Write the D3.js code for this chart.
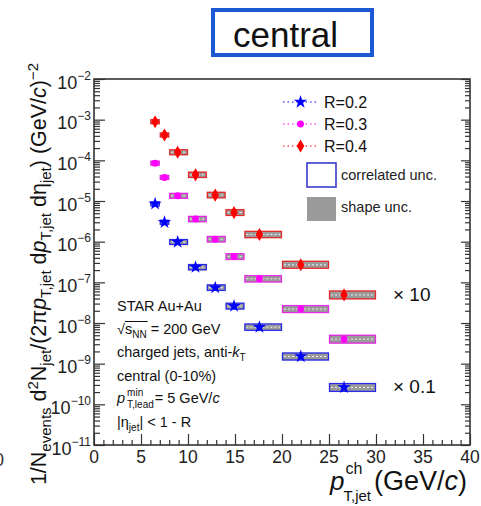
<!DOCTYPE html>
<html>
<head>
<meta charset="utf-8">
<script src="https://cdn.jsdelivr.net/npm/d3@7"></script>
<style>
  body { margin: 0; background: #fff; }
  svg { display: block; font-family: "Liberation Sans", Arial, sans-serif; }
</style>
</head>
<body>
<svg id="chart" width="481" height="506"></svg>
<script>
// pT bins (GeV/c) and the mean pT where the marker sits
const binLo = [6, 7, 8, 10, 12, 14, 16, 20, 25];
const binHi = [7, 8, 10, 12, 14, 16, 20, 25, 30];
const ptMean = [6.5, 7.5, 8.9, 10.8, 12.9, 14.9, 17.6, 22.0, 26.6];

// yields, already scaled (R=0.4 x10, R=0.2 x0.1)
const yieldR04 = [8.9e-4, 4.2e-4, 1.58e-4, 4.4e-5, 1.4e-5, 5.2e-6, 1.5e-6, 2.7e-7, 4.9e-8];
const yieldR03 = [8.5e-5, 3.8e-5, 1.34e-5, 3.6e-6, 1.15e-6, 4.3e-7, 1.22e-7, 2.2e-8, 4.0e-9];
const yieldR02 = [8.5e-6, 3.0e-6, 9.8e-7, 2.36e-7, 7.4e-8, 2.6e-8, 7.9e-9, 1.5e-9, 2.6e-10];

// relative systematic uncertainties
const shapeUnc = [0.15, 0.15, 0.18, 0.2, 0.2, 0.21, 0.22, 0.25, 0.28];
const corrUnc  = [0.12, 0.12, 0.15, 0.16, 0.17, 0.18, 0.2, 0.22, 0.25];

const xTicks = [0, 5, 10, 15, 20, 25, 30, 35, 40];
const yExps = [-11, -10, -9, -8, -7, -6, -5, -4, -3, -2];

const series = [
    { name: "R=0.2", values: yieldR02, color: "#0000ff", symbol: d3.symbolStar, size: 55 },
    { name: "R=0.3", values: yieldR03, color: "#ff00ff", symbol: d3.symbolCircle, size: 38 },
    { name: "R=0.4", values: yieldR04, color: "#ff0000", symbol: d3.symbolDiamond, size: 50 }
];

const x = d3.scaleLinear().domain([0, 40]).range([94, 470]);
const y = d3.scaleLog().domain([1e-11, 1e-2]).range([445, 79]);

const svg = d3.select("#chart");

// "central" tag on top
svg.append("rect")
    .attr("x", 213).attr("y", 10)
    .attr("width", 159).attr("height", 45)
    .attr("fill", "#fff")
    .attr("stroke", "#1c58d4")
    .attr("stroke-width", 4);
svg.append("text")
    .attr("x", 233).attr("y", 47)
    .attr("font-size", 35)
    .attr("fill", "#111")
    .text("central");

// stray label from the neighbouring panel
svg.append("text")
    .attr("x", -6).attr("y", 466)
    .attr("font-size", 18)
    .attr("fill", "#333")
    .text("0");

// ticks
const yMinor = [];
yExps.slice(0, -1).forEach(e => {
    for (let k = 2; k <= 9; k++) yMinor.push(k * Math.pow(10, e));
});
const yMajor = yExps.map(e => Math.pow(10, e));
const xMinor = d3.range(0, 41, 1).filter(v => v % 5 !== 0);

function clean(g) {
    g.select(".domain").remove();
    g.selectAll("text").remove();
    g.selectAll("line").attr("stroke", "#333").attr("stroke-width", 1.2);
}

svg.append("g").attr("transform", "translate(94,0)")
    .call(d3.axisLeft(y).tickValues(yMinor).tickSize(-6)).call(clean);
svg.append("g").attr("transform", "translate(94,0)")
    .call(d3.axisLeft(y).tickValues(yMajor).tickSize(-11)).call(clean);
svg.append("g").attr("transform", "translate(470,0)")
    .call(d3.axisRight(y).tickValues(yMinor).tickSize(-5)).call(clean);
svg.append("g").attr("transform", "translate(470,0)")
    .call(d3.axisRight(y).tickValues(yMajor).tickSize(-9)).call(clean);
svg.append("g").attr("transform", "translate(0,445)")
    .call(d3.axisBottom(x).tickValues(xMinor).tickSize(-5)).call(clean);
svg.append("g").attr("transform", "translate(0,445)")
    .call(d3.axisBottom(x).tickValues(xTicks).tickSize(-11)).call(clean);

// frame
svg.append("rect")
    .attr("x", x(0)).attr("y", y(1e-2))
    .attr("width", x(40) - x(0)).attr("height", y(1e-11) - y(1e-2))
    .attr("fill", "none")
    .attr("stroke", "#333")
    .attr("stroke-width", 1.6);

// y tick labels: 10^n
yExps.forEach(e => {
    const t = svg.append("text")
        .attr("x", 91).attr("y", y(Math.pow(10, e)) + 9.5)
        .attr("text-anchor", "end")
        .attr("font-size", 18)
        .attr("fill", "#222");
    t.append("tspan").text("10");
    t.append("tspan").attr("font-size", 12).attr("dy", -9).text("\u2212" + Math.abs(e));
});

// x tick labels
xTicks.forEach(v => {
    svg.append("text")
        .attr("x", x(v)).attr("y", 463)
        .attr("text-anchor", "middle")
        .attr("font-size", 17.5)
        .attr("fill", "#222")
        .text(v);
});

// systematic boxes
series.forEach(s => {
    const g = svg.append("g");
    s.values.forEach((v, i) => {
        g.append("rect")
            .attr("x", x(binLo[i])).attr("width", x(binHi[i]) - x(binLo[i]))
            .attr("y", y(v * (1 + shapeUnc[i])))
            .attr("height", y(v / (1 + shapeUnc[i])) - y(v * (1 + shapeUnc[i])))
            .attr("fill", "#9a9a9a");
        g.append("rect")
            .attr("x", x(binLo[i]) + 0.5).attr("width", x(binHi[i]) - x(binLo[i]) - 1)
            .attr("y", y(v * (1 + corrUnc[i])))
            .attr("height", y(v / (1 + corrUnc[i])) - y(v * (1 + corrUnc[i])))
            .attr("fill", "none")
            .attr("stroke", s.color)
            .attr("stroke-opacity", 0.75)
            .attr("stroke-width", 1.3);
        g.append("line")
            .attr("x1", x(binLo[i]) + 2).attr("x2", x(binHi[i]) - 2)
            .attr("y1", y(v)).attr("y2", y(v))
            .attr("stroke", "#eee")
            .attr("stroke-width", 1)
            .attr("stroke-dasharray", "2,2");
    });
});

// markers
series.forEach(s => {
    svg.append("g").selectAll("path")
        .data(s.values)
        .join("path")
        .attr("transform", (d, i) => `translate(${x(ptMean[i])},${y(d)})`)
        .attr("d", d3.symbol().type(s.symbol).size(s.size))
        .attr("fill", s.color);
});

// legend
const legendY = [102, 124, 146];
series.forEach((s, i) => {
    svg.append("line")
        .attr("x1", 283).attr("x2", 318)
        .attr("y1", legendY[i]).attr("y2", legendY[i])
        .attr("stroke", s.color)
        .attr("stroke-width", 1.2)
        .attr("stroke-dasharray", "1.5,3");
    svg.append("path")
        .attr("transform", `translate(300.5,${legendY[i]})`)
        .attr("d", d3.symbol().type(s.symbol).size(s.size))
        .attr("fill", s.color);
    svg.append("text")
        .attr("x", 324).attr("y", legendY[i] + 6)
        .attr("font-size", 16)
        .attr("fill", "#111")
        .text(s.name);
});
svg.append("rect")
    .attr("x", 307).attr("y", 163).attr("width", 29).attr("height", 24)
    .attr("fill", "#fff").attr("stroke", "#3a3acc").attr("stroke-width", 1.6);
svg.append("text")
    .attr("x", 341).attr("y", 180).attr("font-size", 14.5).attr("fill", "#222")
    .text("correlated unc.");
svg.append("rect")
    .attr("x", 307).attr("y", 197).attr("width", 29).attr("height", 24)
    .attr("fill", "#9a9a9a");
svg.append("text")
    .attr("x", 341).attr("y", 212).attr("font-size", 14.5).attr("fill", "#222")
    .text("shape unc.");

// scale factor labels
svg.append("text")
    .attr("x", 393).attr("y", y(yieldR04[8]) + 6)
    .attr("font-size", 19).attr("fill", "#111")
    .text("\u00d7 10");
svg.append("text")
    .attr("x", 393).attr("y", y(yieldR02[8]) + 6)
    .attr("font-size", 19).attr("fill", "#111")
    .text("\u00d7 0.1");

// info block
const info = svg.append("g")
    .attr("font-size", 14.5)
    .attr("fill", "#111");
const ix = 117;

info.append("text").attr("x", ix).attr("y", 311).text("STAR Au+Au");

const l2 = info.append("text").attr("x", ix).attr("y", 334);
l2.append("tspan").text("\u221a");
const sTs = l2.append("tspan").text("s");
const nnTs = l2.append("tspan").attr("font-size", 10).attr("dy", 4).text("NN");
l2.append("tspan").attr("dy", -4).text(" = 200 GeV");
{
    const b1 = sTs.node().getBBox();
    const b2 = nnTs.node().getBBox();
    info.append("line")
        .attr("x1", b1.x).attr("x2", b2.x + b2.width + 1)
        .attr("y1", 334 - 12.5).attr("y2", 334 - 12.5)
        .attr("stroke", "#111").attr("stroke-width", 1);
}

const l3 = info.append("text").attr("x", ix).attr("y", 357);
l3.append("tspan").text("charged jets, anti-");
l3.append("tspan").attr("font-style", "italic").text("k");
l3.append("tspan").attr("font-size", 10).attr("dy", 4).text("T");

info.append("text").attr("x", ix).attr("y", 381).text("central (0-10%)");

const pT = info.append("text").attr("x", ix).attr("y", 403)
    .attr("font-style", "italic").text("p");
const pw = pT.node().getComputedTextLength();
const supMin = info.append("text").attr("x", ix + pw + 2).attr("y", 396)
    .attr("font-size", 10).text("min");
const subLead = info.append("text").attr("x", ix + pw + 2).attr("y", 408)
    .attr("font-size", 10).text("T,lead");
const stackW = Math.max(supMin.node().getComputedTextLength(), subLead.node().getComputedTextLength());
const l5 = info.append("text").attr("x", ix + pw + 2 + stackW + 1).attr("y", 403);
l5.append("tspan").text(" = 5 GeV/");
l5.append("tspan").attr("font-style", "italic").text("c");

const l6 = info.append("text").attr("x", ix).attr("y", 427);
l6.append("tspan").text("|\u03b7");
l6.append("tspan").attr("font-size", 10).attr("dy", 4).text("jet");
l6.append("tspan").attr("dy", -4).text("| < 1 - R");

// x axis title
const xt = svg.append("g").attr("fill", "#111");
const px0 = 330;
const px = xt.append("text").attr("x", px0).attr("y", 490)
    .attr("font-size", 26).attr("font-style", "italic").text("p");
const pxw = px.node().getComputedTextLength();
xt.append("text").attr("x", px0 + pxw + 1).attr("y", 474)
    .attr("font-size", 16).text("ch");
xt.append("text").attr("x", px0 + pxw - 1).attr("y", 501)
    .attr("font-size", 15).text("T,jet");
const xu = xt.append("text").attr("x", 374).attr("y", 490).attr("font-size", 27);
xu.append("tspan").text("(GeV/");
xu.append("tspan").attr("font-style", "italic").text("c");
xu.append("tspan").text(")");

// y axis title
const yt = svg.append("text")
    .attr("transform", "translate(46,274) rotate(-90)")
    .attr("text-anchor", "middle")
    .attr("font-size", 21.5)
    .attr("fill", "#111");
function part(str, opt) {
    const t = yt.append("tspan").text(str);
    if (opt && opt.sub) t.attr("font-size", 15).attr("dy", 5);
    if (opt && opt.sup) t.attr("font-size", 15).attr("dy", -8);
    if (opt && opt.back) t.attr("dy", opt.back);
    if (opt && opt.it) t.attr("font-style", "italic");
    return t;
}
part("1/N");
part("events", { sub: true });
part(" d", { back: -5 });
part("2", { sup: true });
part("N", { back: 8 });
part("jet", { sub: true });
part("/(2\u03c0", { back: -5 });
part("p", { it: true });
part("T,jet", { sub: true });
part(" d", { back: -5 });
part("p", { it: true });
part("T,jet", { sub: true });
part(" d\u03b7", { back: -5 });
part("jet", { sub: true });
part(") (GeV/", { back: -5 });
part("c", { it: true });
part(")");
part("\u22122", { sup: true });
</script>
</body>
</html>
